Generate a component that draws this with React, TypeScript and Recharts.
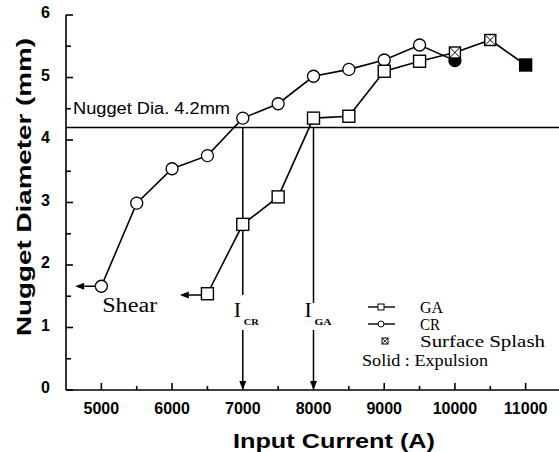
import React from 'react';
import { LineChart, Line, XAxis, YAxis, ReferenceLine } from 'recharts';

// ---- data ----
const gaCurrent = [6500, 7000, 7500, 8000, 8500, 9000, 9500, 10000, 10500, 11000];
const gaDiameter = [1.54, 2.65, 3.09, 4.35, 4.38, 5.1, 5.26, 5.4, 5.6, 5.2];
const gaState = ['open', 'open', 'open', 'open', 'open', 'open', 'open', 'splash', 'splash', 'solid'];

const crCurrent = [5000, 5500, 6000, 6500, 7000, 7500, 8000, 8500, 9000, 9500, 10000];
const crDiameter = [1.66, 2.99, 3.54, 3.75, 4.35, 4.58, 5.02, 5.13, 5.28, 5.52, 5.27];
const crState = ['open', 'open', 'open', 'open', 'open', 'open', 'open', 'open', 'open', 'open', 'solid'];

const xTicks = [5000, 5500, 6000, 6500, 7000, 7500, 8000, 8500, 9000, 9500, 10000, 10500, 11000];
const yTicks = [0, 0.5, 1, 1.5, 2, 2.5, 3, 3.5, 4, 4.5, 5, 5.5, 6];
const xDomain = [4500, 11500];
const yDomain = [0, 6];

const criticalDiameter = 4.2;
const iCr = 7000;
const iGa = 8000;
// shear arrows: [start current, end current, diameter]
const crShearArrow = [4915, 4630, 1.66];
const gaShearArrow = [6415, 6110, 1.52];
// vertical arrow gaps around I labels: [upper end, lower start]
const crGap = [1.52, 0.96];
const gaGap = [1.39, 0.96];

const gaData = gaCurrent.map((x, i) => ({ x, y: gaDiameter[i], state: gaState[i] }));
const crData = crCurrent.map((x, i) => ({ x, y: crDiameter[i], state: crState[i] }));

const SANS = '"Liberation Sans", Arial, sans-serif';
const SERIF = '"Liberation Serif", "Times New Roman", serif';

const makeDot = (shape: 'circle' | 'square') => (props: any) => {
  const { cx, cy, payload, index } = props;
  const k = `${shape}-${index}`;
  if (cx == null || cy == null) return <g key={k} />;
  const st = payload.state;
  if (st === 'splash') {
    const h = 5.5;
    return (
      <g key={k}>
        <rect x={cx - h} y={cy - h} width={2 * h} height={2 * h} fill="#fff" stroke="#000" strokeWidth={1.4} />
        <line x1={cx - h} y1={cy - h} x2={cx + h} y2={cy + h} stroke="#000" strokeWidth={1} />
        <line x1={cx - h} y1={cy + h} x2={cx + h} y2={cy - h} stroke="#000" strokeWidth={1} />
      </g>
    );
  }
  const fill = st === 'solid' ? '#000' : '#fff';
  if (shape === 'circle') {
    return <circle key={k} cx={cx} cy={cy} r={6} fill={fill} stroke="#000" strokeWidth={1.3} />;
  }
  return <rect key={k} x={cx - 6} y={cy - 6} width={12} height={12} fill={fill} stroke="#000" strokeWidth={1.4} />;
};

const arrowShape = (props: any) => {
  const { x1, y1, x2, y2 } = props;
  const dx = x2 - x1;
  const dy = y2 - y1;
  const len = Math.sqrt(dx * dx + dy * dy) || 1;
  const ux = dx / len;
  const uy = dy / len;
  const hl = 9;
  const hw = 3.5;
  const bx = x2 - ux * hl;
  const by = y2 - uy * hl;
  const pts = `${x2},${y2} ${bx - uy * hw},${by + ux * hw} ${bx + uy * hw},${by - ux * hw}`;
  return (
    <g>
      <line x1={x1} y1={y1} x2={bx} y2={by} stroke="#000" strokeWidth={1.5} />
      <polygon points={pts} fill="#000" />
    </g>
  );
};

const plainLine = (props: any) => {
  const { x1, y1, x2, y2 } = props;
  return <line x1={x1} y1={y1} x2={x2} y2={y2} stroke="#000" strokeWidth={1.5} />;
};

const bottomTick = (props: any) => {
  const { x, y, payload } = props;
  const major = payload.value % 1000 === 0;
  return (
    <g>
      <line x1={x} x2={x} y1={y} y2={y - (major ? 7 : 4)} stroke="#000" strokeWidth={1.6} />
      {major && (
        <text x={x} y={y + 24} textAnchor="middle" fontFamily={SANS} fontWeight="bold" fontSize={16} fill="#000">
          {payload.value}
        </text>
      )}
    </g>
  );
};

const topTick = (props: any) => {
  const { x, y } = props;
  return <line x1={x} x2={x} y1={y} y2={y + 6} stroke="#000" strokeWidth={1.6} />;
};

const leftTick = (props: any) => {
  const { x, y, payload } = props;
  const major = Number.isInteger(payload.value);
  return (
    <g>
      <line x1={x} x2={x + (major ? 7 : 5)} y1={y} y2={y} stroke="#000" strokeWidth={1.6} />
      {major && (
        <text x={x - 16} y={y + 3} textAnchor="end" fontFamily={SANS} fontWeight="bold" fontSize={16} fill="#000">
          {payload.value}
        </text>
      )}
    </g>
  );
};

const rightTick = (props: any) => {
  const { x, y } = props;
  return <line x1={x} x2={x - 7} y1={y} y2={y} stroke="#000" strokeWidth={1.6} />;
};

const xLabel = () => (
  <text
    x={233}
    y={448}
    textAnchor="start"
    fontFamily={SANS}
    fontWeight="bold"
    fontSize={21}
    textLength={202}
    lengthAdjust="spacingAndGlyphs"
    fill="#000"
  >
    Input Current (A)
  </text>
);

const yLabel = () => (
  <text
    x={31}
    y={336}
    transform="rotate(-90, 31, 336)"
    textAnchor="start"
    fontFamily={SANS}
    fontWeight="bold"
    fontSize={20}
    textLength={298}
    lengthAdjust="spacingAndGlyphs"
    fill="#000"
  >
    Nugget Diameter (mm)
  </text>
);

const nuggetLabel = (props: any) => {
  const vb = props.viewBox;
  if (!vb) return null;
  return (
    <text x={vb.x + 7} y={vb.y - 14} fontFamily={SANS} fontSize={16} textLength={157} lengthAdjust="spacingAndGlyphs" fill="#000">
      Nugget Dia. 4.2mm
    </text>
  );
};

const shearLabel = (props: any) => {
  const vb = props.viewBox;
  if (!vb) return null;
  return (
    <text x={vb.x + 27} y={vb.y + 26} fontFamily={SERIF} fontSize={20} textLength={55} lengthAdjust="spacingAndGlyphs" fill="#000">
      Shear
    </text>
  );
};

const iLabel = (sub: string, subW: number) => (props: any) => {
  const vb = props.viewBox;
  if (!vb) return null;
  return (
    <g>
      <text x={vb.x - 9} y={vb.y - 13} fontFamily={SERIF} fontSize={22} fill="#000">
        I
      </text>
      <text
        x={vb.x + 1}
        y={vb.y - 5}
        fontFamily={SERIF}
        fontWeight="bold"
        fontSize={9}
        textLength={subW}
        lengthAdjust="spacingAndGlyphs"
        fill="#000"
      >
        {sub}
      </text>
    </g>
  );
};

const Legend = () => (
  <svg width={559} height={452} style={{ position: 'absolute', left: 0, top: 0, pointerEvents: 'none' }}>
    <line x1={368} x2={395} y1={307} y2={307} stroke="#000" strokeWidth={1.4} />
    <rect x={378} y={304} width={6} height={6} fill="#fff" stroke="#000" strokeWidth={1} />
    <text x={420} y={313} fontFamily={SERIF} fontSize={16} textLength={23} lengthAdjust="spacingAndGlyphs" fill="#000">GA</text>
    <line x1={368} x2={395} y1={324} y2={324} stroke="#000" strokeWidth={1.4} />
    <circle cx={381} cy={324} r={3} fill="#fff" stroke="#000" strokeWidth={1} />
    <text x={420} y={330} fontFamily={SERIF} fontSize={16} textLength={20} lengthAdjust="spacingAndGlyphs" fill="#000">CR</text>
    <rect x={382} y={338} width={6} height={6} fill="#fff" stroke="#000" strokeWidth={1} />
    <line x1={382} y1={338} x2={388} y2={344} stroke="#000" strokeWidth={0.8} />
    <line x1={382} y1={344} x2={388} y2={338} stroke="#000" strokeWidth={0.8} />
    <text x={420} y={347} fontFamily={SERIF} fontSize={16} textLength={125} lengthAdjust="spacingAndGlyphs" fill="#000">Surface Splash</text>
    <text x={362} y={366} fontFamily={SERIF} fontSize={16} textLength={126} lengthAdjust="spacingAndGlyphs" fill="#000">Solid : Expulsion</text>
  </svg>
);

const axisLineStyle = { stroke: '#000', strokeWidth: 1.6 };

export default function App() {
  return (
    <div style={{ position: 'absolute', left: 0, top: 0, width: 559, height: 452, overflow: 'hidden', background: '#fff' }}>
      <LineChart width={570} height={452} margin={{ top: 15, right: 9, bottom: 0, left: 0 }}>
        <XAxis
          xAxisId={0}
          dataKey="x"
          type="number"
          domain={xDomain}
          ticks={xTicks}
          interval={0}
          tickSize={0}
          tickMargin={0}
          tick={bottomTick}
          tickLine={false}
          axisLine={axisLineStyle}
          height={62}
          allowDataOverflow
          label={xLabel}
        />
        <XAxis
          xAxisId="top"
          orientation="top"
          dataKey="x"
          type="number"
          domain={xDomain}
          ticks={xTicks}
          interval={0}
          tickSize={0}
          tickMargin={0}
          tick={topTick}
          tickLine={false}
          axisLine={axisLineStyle}
          height={0}
          allowDataOverflow
        />
        <YAxis
          yAxisId={0}
          type="number"
          domain={yDomain}
          ticks={yTicks}
          interval={0}
          tickSize={0}
          tickMargin={0}
          tick={leftTick}
          tickLine={false}
          axisLine={axisLineStyle}
          width={66}
          allowDataOverflow
          label={yLabel}
        />
        <YAxis
          yAxisId="right"
          orientation="right"
          type="number"
          domain={yDomain}
          ticks={yTicks}
          interval={0}
          tickSize={0}
          tickMargin={0}
          tick={rightTick}
          tickLine={false}
          axisLine={axisLineStyle}
          width={0}
          allowDataOverflow
        />
        <ReferenceLine y={criticalDiameter} stroke="#000" strokeWidth={1.5} label={nuggetLabel} />
        <ReferenceLine
          segment={[{ x: iCr, y: criticalDiameter }, { x: iCr, y: crGap[0] }]}
          shape={plainLine}
        />
        <ReferenceLine
          segment={[{ x: iCr, y: crGap[1] }, { x: iCr, y: 0 }]}
          shape={arrowShape}
          label={iLabel('CR', 15)}
        />
        <ReferenceLine
          segment={[{ x: iGa, y: criticalDiameter }, { x: iGa, y: gaGap[0] }]}
          shape={plainLine}
        />
        <ReferenceLine
          segment={[{ x: iGa, y: gaGap[1] }, { x: iGa, y: 0 }]}
          shape={arrowShape}
          label={iLabel('GA', 17)}
        />
        <ReferenceLine
          segment={[{ x: crShearArrow[0], y: crShearArrow[2] }, { x: crShearArrow[1], y: crShearArrow[2] }]}
          shape={arrowShape}
          label={shearLabel}
        />
        <ReferenceLine
          segment={[{ x: gaShearArrow[0], y: gaShearArrow[2] }, { x: gaShearArrow[1], y: gaShearArrow[2] }]}
          shape={arrowShape}
        />
        <Line
          data={crData}
          dataKey="y"
          type="linear"
          stroke="#000"
          strokeWidth={1.6}
          dot={makeDot('circle')}
          activeDot={false}
          isAnimationActive={false}
        />
        <Line
          data={gaData}
          dataKey="y"
          type="linear"
          stroke="#000"
          strokeWidth={1.6}
          dot={makeDot('square')}
          activeDot={false}
          isAnimationActive={false}
        />
      </LineChart>
      <Legend />
    </div>
  );
}
